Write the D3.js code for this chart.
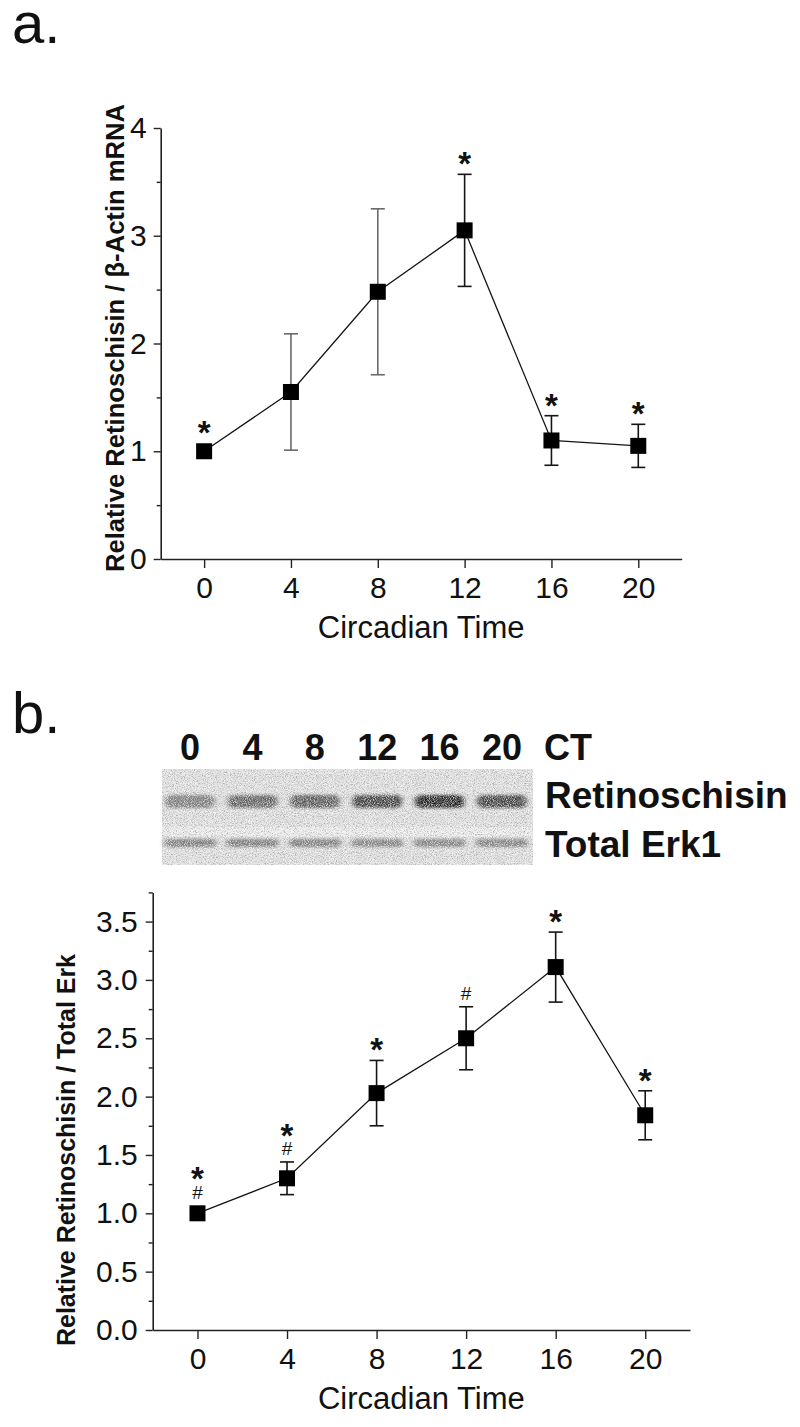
<!DOCTYPE html>
<html><head><meta charset="utf-8">
<script src="https://cdn.jsdelivr.net/npm/d3@7"></script>
<style>
body{margin:0;background:#fff}
svg{display:block}
text{font-family:"Liberation Sans",Arial,Helvetica,sans-serif;fill:#111}
</style>
</head><body>
<svg id="c" width="800" height="1427"></svg>
<script>
// ---------- data ----------
const ct = [0, 4, 8, 12, 16, 20];
const xTicks = [0, 4, 8, 12, 16, 20];
// panel a: mRNA
const mrnaMean = [1.00, 1.55, 2.48, 3.05, 1.10, 1.05];
const mrnaErr  = [0.00, 0.54, 0.77, 0.52, 0.23, 0.20];
const mrnaErrGray = [false, true, true, false, false, false];
const mrnaStar = [true, false, false, true, true, true];
const mrnaTicks = [0, 1, 2, 3, 4];
const mrnaMinor = [0.5, 1.5, 2.5, 3.5];
// panel b: protein
const protMean = [1.00, 1.30, 2.03, 2.50, 3.11, 1.84];
const protErr  = [0.00, 0.14, 0.28, 0.27, 0.30, 0.21];
const protStar = [true, true, true, false, true, true];
const protHash = [true, true, false, true, false, false];
const protTicks = [0, 0.5, 1.0, 1.5, 2.0, 2.5, 3.0, 3.5];
const protMinor = [0.25, 0.75, 1.25, 1.75, 2.25, 2.75, 3.25, 3.75];
// blot
const blotLanes = ["0", "4", "8", "12", "16", "20"];
const rsBand  = [0.45, 0.58, 0.62, 0.75, 0.88, 0.74];
const erkBand = [0.46, 0.46, 0.46, 0.42, 0.42, 0.44];

const svg = d3.select("#c");
const ink = "#151515";

// ---------- filters ----------
const defs = svg.append("defs");
const nf = defs.append("filter").attr("id", "noise")
  .attr("x", 0).attr("y", 0).attr("width", 1).attr("height", 1);
nf.append("feTurbulence").attr("type", "fractalNoise").attr("baseFrequency", 0.9)
  .attr("numOctaves", 2).attr("seed", 7).attr("result", "t");
nf.append("feColorMatrix").attr("type", "matrix")
  .attr("values", "0 0 0 0 0.3  0 0 0 0 0.3  0 0 0 0 0.3  2.8 0 0 0 -1.2");
const wf = defs.append("filter").attr("id", "noiseW")
  .attr("x", 0).attr("y", 0).attr("width", 1).attr("height", 1);
wf.append("feTurbulence").attr("type", "fractalNoise").attr("baseFrequency", 0.95)
  .attr("numOctaves", 2).attr("seed", 21);
wf.append("feColorMatrix").attr("type", "matrix")
  .attr("values", "0 0 0 0 1  0 0 0 0 1  0 0 0 0 1  2.6 0 0 0 -1.1");
const bf = defs.append("filter").attr("id", "blur")
  .attr("x", "-30%").attr("y", "-80%").attr("width", "160%").attr("height", "260%");
bf.append("feGaussianBlur").attr("stdDeviation", "2.6 1.8");

// ---------- panel letters ----------
svg.append("text").attr("x", 12).attr("y", 43).attr("font-size", 58).text("a.");
svg.append("text").attr("x", 12).attr("y", 733).attr("font-size", 58).text("b.");

function panel(opt) {
  const g = svg.append("g");
  const x = d3.scaleLinear().domain([-2, 22]).range(opt.xr);
  const y = d3.scaleLinear().domain(opt.yd).range(opt.yr);

  g.append("g").attr("transform", `translate(0,${opt.yr[0]})`)
    .call(d3.axisBottom(x).tickValues(xTicks).tickSize(9).tickSizeOuter(0).tickPadding(9));
  g.append("g").attr("transform", `translate(${opt.xr[0]},0)`)
    .call(d3.axisLeft(y).tickValues(opt.ticks).tickSize(7).tickSizeOuter(0)
      .tickPadding(opt.pad).tickFormat(opt.fmt));
  g.append("g").attr("transform", `translate(${opt.xr[0]},0)`)
    .call(d3.axisLeft(y).tickValues(opt.minor).tickSize(4).tickSizeOuter(0).tickFormat(""))
    .select(".domain").remove();
  g.selectAll(".domain").attr("stroke", "#222").attr("stroke-width", 1.6);
  g.selectAll(".tick line").attr("stroke", "#222").attr("stroke-width", 1.4);
  g.selectAll(".tick text").attr("font-size", 30)
    .attr("font-family", '"Liberation Sans",Arial,sans-serif').attr("fill", ink);

  g.append("text").attr("x", (x(0) + x(20)) / 2).attr("y", opt.yr[0] + 79)
    .attr("text-anchor", "middle").attr("font-size", 31).text("Circadian Time");
  g.append("text").attr("transform", `translate(${opt.ylx},${opt.ylc}) rotate(-90)`)
    .attr("text-anchor", "middle").attr("font-size", 25).attr("font-weight", "bold")
    .attr("textLength", opt.yll).attr("lengthAdjust", "spacingAndGlyphs")
    .text(opt.ytitle);

  const pts = ct.map((c, i) => ({ c, m: opt.mean[i], e: opt.err[i], i }));
  g.append("path").datum(pts)
    .attr("d", d3.line().x(d => x(d.c)).y(d => y(d.m)))
    .attr("fill", "none").attr("stroke", ink).attr("stroke-width", 1.3);
  const eb = g.selectAll(".eb").data(pts.filter(d => d.e > 0)).join("g")
    .attr("stroke", d => (opt.gray && opt.gray[d.i]) ? "#6a6a6a" : ink).attr("stroke-width", 1.6);
  eb.append("line").attr("x1", d => x(d.c)).attr("x2", d => x(d.c))
    .attr("y1", d => y(d.m - d.e)).attr("y2", d => y(d.m + d.e));
  eb.append("line").attr("x1", d => x(d.c) - 7).attr("x2", d => x(d.c) + 7)
    .attr("y1", d => y(d.m + d.e)).attr("y2", d => y(d.m + d.e));
  eb.append("line").attr("x1", d => x(d.c) - 7).attr("x2", d => x(d.c) + 7)
    .attr("y1", d => y(d.m - d.e)).attr("y2", d => y(d.m - d.e));
  const s = 16;
  g.selectAll(".pt").data(pts).join("rect")
    .attr("x", d => x(d.c) - s / 2).attr("y", d => y(d.m) - s / 2)
    .attr("width", s).attr("height", s).attr("fill", "#000");
  pts.forEach(d => {
    const top = Math.min(y(d.m + d.e), y(d.m) - s / 2);
    const hasHash = opt.hash && opt.hash[d.i];
    if (hasHash) {
      const cy = top - 13;
      g.append("text").attr("x", x(d.c)).attr("y", cy + 6.5).attr("text-anchor", "middle")
        .attr("font-size", 19).text("#");
    }
    if (opt.star[d.i]) {
      const cy = top - (hasHash ? 34 : 18);
      g.append("text").attr("x", x(d.c)).attr("y", cy + 19).attr("text-anchor", "middle")
        .attr("font-size", 33).attr("font-weight", "bold").text("*");
    }
  });
}

panel({
  xr: [160.7, 681.7], yd: [0, 4], yr: [559, 128],
  ticks: mrnaTicks, minor: mrnaMinor, pad: 7, fmt: d3.format("d"),
  ylx: 124, ylc: 338, yll: 468,
  ytitle: "Relative Retinoschisin / β-Actin mRNA",
  mean: mrnaMean, err: mrnaErr, gray: mrnaErrGray, star: mrnaStar
});

panel({
  xr: [152.7, 690], yd: [0, 3.75], yr: [1330, 892.4],
  ticks: protTicks, minor: protMinor, pad: 8, fmt: d3.format(".1f"),
  ylx: 75, ylc: 1150, yll: 392,
  ytitle: "Relative Retinoschisin / Total Erk",
  mean: protMean, err: protErr, star: protStar, hash: protHash
});

// ---------- blot ----------
const lane = d3.scalePoint().domain(blotLanes).range([190, 502]);
const blot = svg.append("g");
const bx0 = 162, bx1 = 533, by0 = 769, by1 = 865;
blot.append("rect").attr("x", bx0).attr("y", by0).attr("width", bx1 - bx0).attr("height", by1 - by0)
  .attr("fill", "#e2e2e2");
blot.append("rect").attr("x", bx0).attr("y", by0 + 58).attr("width", bx1 - bx0).attr("height", 10)
  .attr("fill", "#eeeeee");
blot.selectAll(".rs").data(blotLanes).join("rect")
  .attr("x", d => lane(d) - 25).attr("y", 795).attr("width", 50).attr("height", 13).attr("rx", 6)
  .attr("fill", "#000").attr("fill-opacity", (d, i) => rsBand[i]).attr("filter", "url(#blur)");
blot.selectAll(".erk").data(blotLanes).join("rect")
  .attr("x", d => lane(d) - 26).attr("y", 839).attr("width", 52).attr("height", 8).attr("rx", 4)
  .attr("fill", "#000").attr("fill-opacity", (d, i) => erkBand[i]).attr("filter", "url(#blur)");
blot.append("rect").attr("x", bx0).attr("y", by0).attr("width", bx1 - bx0).attr("height", by1 - by0)
  .attr("fill", "#fff").attr("filter", "url(#noise)").attr("opacity", 0.7);
blot.append("rect").attr("x", bx0).attr("y", by0).attr("width", bx1 - bx0).attr("height", by1 - by0)
  .attr("fill", "#fff").attr("filter", "url(#noiseW)").attr("opacity", 0.8);

blot.selectAll(".ln").data(blotLanes).join("text")
  .attr("x", d => lane(d)).attr("y", 760).attr("text-anchor", "middle")
  .attr("font-size", 36).attr("font-weight", "bold").text(d => d);
blot.append("text").attr("x", 544).attr("y", 760).attr("font-size", 36).attr("font-weight", "bold").text("CT");
blot.append("text").attr("x", 545).attr("y", 808).attr("font-size", 37).attr("font-weight", "bold").text("Retinoschisin");
blot.append("text").attr("x", 545).attr("y", 857).attr("font-size", 37).attr("font-weight", "bold").text("Total Erk1");
</script>
</body></html>
